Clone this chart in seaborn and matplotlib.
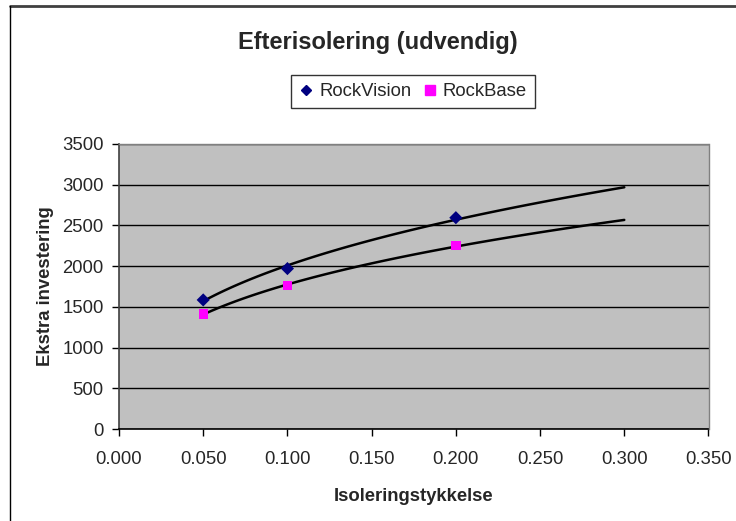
import numpy as np
import pandas as pd
import matplotlib
matplotlib.use("Agg")
import matplotlib.pyplot as plt
from matplotlib.lines import Line2D
import seaborn as sns

# ---- data ----
thickness = [0.05, 0.10, 0.20]
rockvision = [1585, 1970, 2595]
rockbase = [1412, 1760, 2250]
series_names = ["RockVision", "RockBase"]
trend_end = 0.30
x_ticks = [0.0, 0.05, 0.10, 0.15, 0.20, 0.25, 0.30, 0.35]
y_ticks = [0, 500, 1000, 1500, 2000, 2500, 3000, 3500]

sns.set_style("white")
plt.rcParams['font.family'] = ['Liberation Sans', 'DejaVu Sans']

df = pd.DataFrame({
    "x": thickness * 2,
    "y": rockvision + rockbase,
    "series": [series_names[0]] * 3 + [series_names[1]] * 3,
})

# power trendlines (Excel-style) fitted from the data
xs = np.linspace(thickness[0], trend_end, 120)
trend_rows = []
for name, vals in zip(series_names, [rockvision, rockbase]):
    b, lna = np.polyfit(np.log(thickness), np.log(vals), 1)
    ys = np.exp(lna) * xs ** b
    trend_rows.append(pd.DataFrame({"x": xs, "y": ys, "series": name}))
trend = pd.concat(trend_rows)

fig = plt.figure(figsize=(7.36, 5.21), dpi=100)
ax = fig.add_axes([119 / 736, 1 - 429 / 521, (708.5 - 119) / 736, (429 - 144) / 521])
ax.set_facecolor("#C0C0C0")

for name in series_names:
    sns.lineplot(data=trend[trend.series == name], x="x", y="y", color="black",
                 lw=1.8, ax=ax, legend=False)

palette = {"RockVision": "#000080", "RockBase": "#FF00FF"}
markers = {"RockVision": "D", "RockBase": "s"}
sns.scatterplot(data=df, x="x", y="y", hue="series", style="series",
                palette=palette, markers=markers, s=45, linewidth=0,
                ax=ax, legend=False, zorder=3)

ax.set_xlim(0, 0.35)
ax.set_ylim(0, 3500)
ax.set_xticks(x_ticks)
ax.set_xticklabels([f"{t:.3f}" for t in x_ticks], fontsize=13.3)
ax.set_yticks(y_ticks)
ax.set_yticklabels([str(t) for t in y_ticks], fontsize=13.3)
ax.grid(axis="y", color="black", lw=1.0)
ax.grid(axis="x", visible=False)
ax.set_axisbelow(True)
ax.tick_params(axis="x", direction="out", length=5, width=1, color="black",
               bottom=True, pad=11)
ax.tick_params(axis="y", direction="out", length=5, width=1, color="black",
               left=True, pad=6)
for side in ["top", "right"]:
    ax.spines[side].set_color("#808080")
    ax.spines[side].set_linewidth(1)
ax.spines["left"].set_color("#404040")
ax.spines["bottom"].set_color("black")
for side in ["left", "bottom"]:
    ax.spines[side].set_linewidth(1.2)

ax.set_xlabel("Isoleringstykkelse", fontsize=13.3, fontweight="bold", labelpad=14)
ax.set_ylabel("Ekstra investering", fontsize=13.3, fontweight="bold", labelpad=6)

fig.text(378 / 736, 1 - 42 / 521, "Efterisolering (udvendig)", ha="center",
         va="center", fontsize=17, fontweight="bold")

handles = [Line2D([], [], ls="none", marker=markers[n], color=palette[n],
                  markersize=5 if n == "RockVision" else 6.5, label=n)
           for n in series_names]
leg = fig.legend(handles=handles, loc="center", bbox_to_anchor=(413 / 736, 1 - 91.5 / 521),
                 ncol=2, frameon=True, fancybox=False, fontsize=13.3,
                 handlelength=0.8, handletextpad=0.3, columnspacing=0.6,
                 borderpad=0.45, borderaxespad=0)
leg.get_frame().set_edgecolor("black")
leg.get_frame().set_linewidth(1)

# chart-area border (top and left visible)
fig.add_artist(Line2D([9.5 / 736, 1], [1 - 6 / 521, 1 - 6 / 521], color="#404040", lw=2,
                      transform=fig.transFigure))
fig.add_artist(Line2D([9.5 / 736, 9.5 / 736], [0, 1 - 6 / 521], color="black", lw=1,
                      transform=fig.transFigure))

fig.savefig("out.png", dpi=100)
